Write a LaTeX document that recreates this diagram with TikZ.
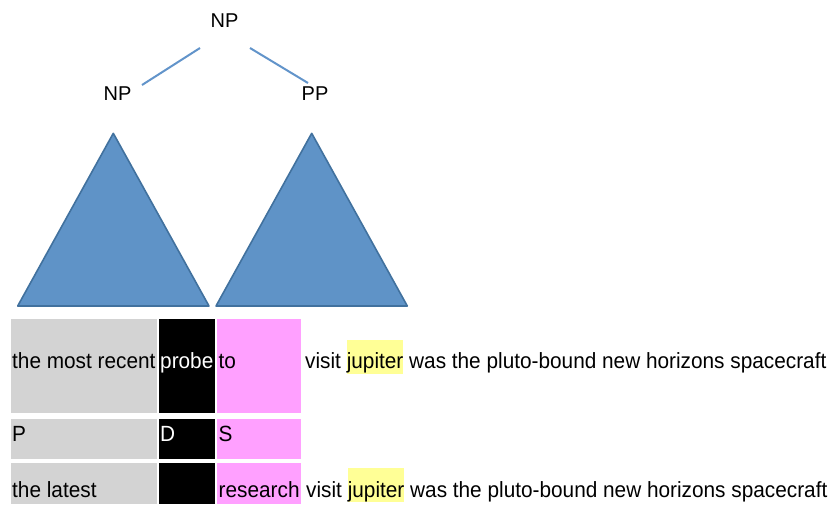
\documentclass[tikz,border=0pt]{standalone}
\usepackage{fontspec}
\setmainfont[FakeStretch=0.945]{Liberation Sans}
\newfontfamily\treefont{Liberation Sans}
\definecolor{trifill}{RGB}{95,147,199}
\definecolor{tridraw}{RGB}{65,113,158}
\definecolor{edgeblue}{RGB}{98,148,202}
\definecolor{cellgray}{RGB}{211,211,211}
\definecolor{cellpink}{RGB}{255,160,255}
\definecolor{hlyellow}{RGB}{255,255,150}
\newcommand\hlword[1]{{\setlength\fboxsep{0pt}\colorbox{hlyellow}{\rule[-5pt]{0pt}{34pt}#1}}}
\tikzset{
  treelabel/.style={inner sep=0pt, anchor=base, font=\treefont\fontsize{20pt}{24pt}\selectfont},
  treeedge/.style={draw=edgeblue, line width=2pt},
  subtree/.style={fill=trifill, draw=tridraw, line width=1.6pt, line join=round},
  cellbox/.style={inner sep=0pt, outer sep=0pt, anchor=north west, draw=none},
  celltext/.style={inner sep=0pt, anchor=base west, font=\fontsize{22pt}{26pt}\selectfont},
}
\begin{document}
\begin{tikzpicture}[x=1pt,y=-1pt]
\useasboundingbox (0,0) rectangle (829,504);
% tree labels
\node[treelabel] (np0) at (224.5,27) {NP};
\node[treelabel] (np1) at (117.5,100) {NP};
\node[treelabel] (pp) at (315,100) {PP};
% edges
\coordinate (e1a) at (200,48);
\coordinate (e1b) at (142,85);
\coordinate (e2a) at (250,48);
\coordinate (e2b) at (308,83);
\draw[treeedge] (e1a) -- (e1b);
\draw[treeedge] (e2a) -- (e2b);
% triangles
\draw[subtree] (113.3,133.3) -- (209,306) -- (17.7,306) -- cycle;
\draw[subtree] (311.7,133.3) -- (407.3,306) -- (216,306) -- cycle;
% cells row 1
\node[cellbox, fill=cellgray, minimum width=146pt, minimum height=94pt] (g1) at (11,319) {};
\node[cellbox, fill=black, minimum width=56pt, minimum height=94pt] (b1) at (159,319) {};
\node[cellbox, fill=cellpink, minimum width=84pt, minimum height=94pt] (p1) at (217,319) {};
% cells row 2
\node[cellbox, fill=cellgray, minimum width=146pt, minimum height=40pt] (g2) at (11,419) {};
\node[cellbox, fill=black, minimum width=56pt, minimum height=40pt] (b2) at (159,419) {};
\node[cellbox, fill=cellpink, minimum width=84pt, minimum height=40pt] (p2) at (217,419) {};
% cells row 3
\node[cellbox, fill=cellgray, minimum width=146pt, minimum height=41pt] (g3) at (11,463) {};
\node[cellbox, fill=black, minimum width=56pt, minimum height=41pt] (b3) at (159,463) {};
\node[cellbox, fill=cellpink, minimum width=84pt, minimum height=41pt] (p3) at (217,463) {};
% texts row 1
\node[celltext] (t1a) at (12,368.5) {the most recent};
\node[celltext, text=white] (t1b) at (160,368.5) {probe};
\node[celltext] (t1c) at (218.5,368.5) {to};
\node[celltext] (t1d) at (305,368.5) {visit \hlword{jupiter} was the pluto-bound new horizons spacecraft};
% texts row 2
\node[celltext] (t2a) at (12,441) {P};
\node[celltext, text=white] (t2b) at (160,441) {D};
\node[celltext] (t2c) at (218.5,441) {S};
% texts row 3
\node[celltext] (t3a) at (12,497) {the latest};
\node[celltext] (t3c) at (218.5,497) {research};
\node[celltext] (t3d) at (306,497) {visit \hlword{jupiter} was the pluto-bound new horizons spacecraft};
\end{tikzpicture}
\end{document}
